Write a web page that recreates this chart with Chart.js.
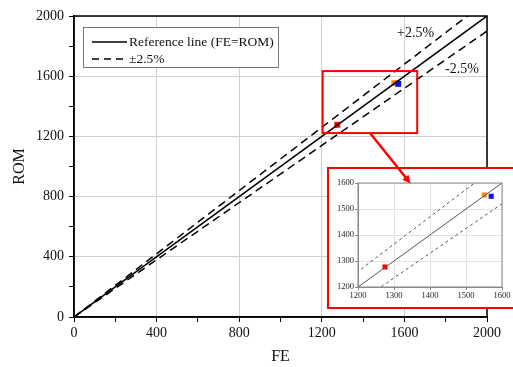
<!DOCTYPE html>
<html>
<head>
<meta charset="utf-8">
<script src="https://cdn.jsdelivr.net/npm/chart.js@4"></script>
<style>
  body { margin: 0; background: #fff; overflow: hidden; }
  #mainChart { position: absolute; left: 0; top: 0; }
  #insetChart { position: absolute; left: 320px; top: 125px; }
</style>
</head>
<body>
<canvas id="mainChart" width="513" height="367"></canvas>
<canvas id="insetChart" width="193" height="190"></canvas>
<script>
// datos
const lineFE = [0, 2000];
const refROM = [0, 2000];
const upperROM = [0, 2100];
const lowerROM = [0, 1900];
const pointFE = [1275, 1551, 1570];
const pointROM = [1277, 1554, 1549];
const pointColors = ['#ff0000', '#ff8c1a', '#1010ff'];
const mainTicks = [0, 400, 800, 1200, 1600, 2000];
const insetTicks = [1200, 1300, 1400, 1500, 1600];

const serif = 'Liberation Serif';
const toXY = (xs, ys) => xs.map((x, i) => ({ x: x, y: ys[i] }));

function lineSets(width, dash, color) {
    return [
        { data: toXY(lineFE, refROM), showLine: true, borderColor: color, borderWidth: width, pointRadius: 0 },
        { data: toXY(lineFE, upperROM), showLine: true, borderColor: color, borderWidth: width, borderDash: dash, pointRadius: 0 },
        { data: toXY(lineFE, lowerROM), showLine: true, borderColor: color, borderWidth: width, borderDash: dash, pointRadius: 0 }
    ];
}

function pointSet(radius) {
    return {
        data: toXY(pointFE, pointROM),
        pointStyle: 'rect',
        pointRadius: radius,
        pointBackgroundColor: pointColors,
        pointBorderColor: pointColors,
        pointBorderWidth: 0
    };
}

// marco, leyenda, textos y recuadro rojo del grafico principal
const mainDecor = {
    id: 'mainDecor',
    afterDatasetsDraw(chart) {
        const { ctx, chartArea: a, scales: { x, y } } = chart;
        ctx.save();
        ctx.strokeStyle = '#000';
        ctx.lineWidth = 1.5;
        ctx.strokeRect(a.left, a.top, a.right - a.left, a.bottom - a.top);

        // recuadro rojo
        ctx.strokeStyle = '#ff0000';
        ctx.lineWidth = 2;
        const rx1 = x.getPixelForValue(1204), rx2 = x.getPixelForValue(1662);
        const ry1 = y.getPixelForValue(1634), ry2 = y.getPixelForValue(1222);
        ctx.strokeRect(rx1, ry1, rx2 - rx1, ry2 - ry1);

        // leyenda
        ctx.fillStyle = '#fff';
        ctx.fillRect(83, 27, 195, 40);
        ctx.strokeStyle = '#777';
        ctx.lineWidth = 1;
        ctx.strokeRect(83.5, 27.5, 195, 40);
        ctx.strokeStyle = '#000';
        ctx.lineWidth = 1.5;
        ctx.beginPath();
        ctx.moveTo(92, 42); ctx.lineTo(127, 42);
        ctx.stroke();
        ctx.setLineDash([7, 5]);
        ctx.beginPath();
        ctx.moveTo(92, 59); ctx.lineTo(127, 59);
        ctx.stroke();
        ctx.setLineDash([]);
        ctx.fillStyle = '#111';
        ctx.font = '13.5px "' + serif + '"';
        ctx.textBaseline = 'middle';
        ctx.fillText('Reference line (FE=ROM)', 129, 42);
        ctx.fillText('\u00b12.5%', 129, 59);

        ctx.font = '14px "' + serif + '"';
        ctx.fillText('+2.5%', 397, 33);
        ctx.fillText('-2.5%', 445, 69);
        ctx.restore();
    }
};

new Chart(document.getElementById('mainChart'), {
    type: 'scatter',
    data: { datasets: [...lineSets(1.5, [8, 5], '#000'), pointSet(4.2)] },
    options: {
        responsive: false,
        animation: false,
        layout: { padding: { top: 16, right: 26, left: 0, bottom: 0 } },
        plugins: { legend: { display: false }, tooltip: { enabled: false } },
        scales: {
            x: {
                type: 'linear', min: 0, max: 2000,
                afterFit: s => { s.height = 50; },
                border: { color: '#000', width: 1.5 },
                grid: {
                    color: c => (mainTicks.includes(c.tick.value) ? '#cfcfcf' : 'rgba(0,0,0,0)'),
                    tickColor: '#000', tickLength: 5
                },
                ticks: {
                    stepSize: 200, padding: 3, color: '#111',
                    font: { family: serif, size: 14 },
                    callback: v => (mainTicks.includes(v) ? String(v) : '')
                },
                title: { display: true, text: 'FE', color: '#111', font: { family: serif, size: 16 }, padding: { bottom: 1 } }
            },
            y: {
                type: 'linear', min: 0, max: 2000,
                afterFit: s => { s.width = 74; },
                border: { color: '#000', width: 1.5 },
                grid: {
                    color: c => (mainTicks.includes(c.tick.value) ? '#cfcfcf' : 'rgba(0,0,0,0)'),
                    tickColor: '#000', tickLength: 5
                },
                ticks: {
                    stepSize: 200, padding: 5, color: '#111',
                    font: { family: serif, size: 14 },
                    callback: v => (mainTicks.includes(v) ? String(v) : '')
                },
                title: { display: true, text: 'ROM', color: '#111', font: { family: serif, size: 16 }, padding: { top: 10 } }
            }
        }
    },
    plugins: [mainDecor]
});

// recuadro blanco con borde rojo y la flecha del zoom
const insetDecor = {
    id: 'insetDecor',
    beforeDraw(chart) {
        const ctx = chart.ctx;
        ctx.save();
        ctx.fillStyle = '#fff';
        ctx.fillRect(7, 42, 200, 142);
        ctx.strokeStyle = '#ff0000';
        ctx.lineWidth = 2;
        ctx.strokeRect(8, 43, 200, 140);
        ctx.restore();
    },
    afterDraw(chart) {
        const { ctx, chartArea: a } = chart;
        ctx.save();
        ctx.strokeStyle = '#888';
        ctx.lineWidth = 1;
        ctx.strokeRect(a.left, a.top, a.right - a.left, a.bottom - a.top);
        // flecha
        const x0 = 50, y0 = 8, x1 = 90.5, y1 = 58.5;
        const ang = Math.atan2(y1 - y0, x1 - x0);
        ctx.strokeStyle = '#ff0000';
        ctx.fillStyle = '#ff0000';
        ctx.lineWidth = 2.5;
        ctx.beginPath();
        ctx.moveTo(x0, y0);
        ctx.lineTo(x1 - 6 * Math.cos(ang), y1 - 6 * Math.sin(ang));
        ctx.stroke();
        ctx.beginPath();
        ctx.moveTo(x1, y1);
        ctx.lineTo(x1 - 9 * Math.cos(ang - 0.45), y1 - 9 * Math.sin(ang - 0.45));
        ctx.lineTo(x1 - 9 * Math.cos(ang + 0.45), y1 - 9 * Math.sin(ang + 0.45));
        ctx.closePath();
        ctx.fill();
        ctx.restore();
    }
};

new Chart(document.getElementById('insetChart'), {
    type: 'scatter',
    data: { datasets: [...lineSets(1, [3, 3], '#555'), pointSet(3.6)] },
    options: {
        responsive: false,
        animation: false,
        layout: { padding: { top: 58, right: 11, left: 0, bottom: 0 } },
        plugins: { legend: { display: false }, tooltip: { enabled: false } },
        scales: {
            x: {
                type: 'linear', min: 1200, max: 1600,
                afterFit: s => { s.height = 28; },
                border: { color: '#888', width: 1 },
                grid: { color: '#e3e3e3', tickColor: '#888', tickLength: 3 },
                ticks: {
                    stepSize: 100, padding: 1, color: '#222',
                    font: { family: serif, size: 8.5 },
                    callback: v => (insetTicks.includes(v) ? String(v) : '')
                }
            },
            y: {
                type: 'linear', min: 1200, max: 1600,
                afterFit: s => { s.width = 38; },
                border: { color: '#888', width: 1 },
                grid: { color: '#e3e3e3', tickColor: '#888', tickLength: 3 },
                ticks: {
                    stepSize: 100, padding: 1, color: '#222',
                    font: { family: serif, size: 8.5 },
                    callback: v => (insetTicks.includes(v) ? String(v) : '')
                }
            }
        }
    },
    plugins: [insetDecor]
});
</script>
</body>
</html>
